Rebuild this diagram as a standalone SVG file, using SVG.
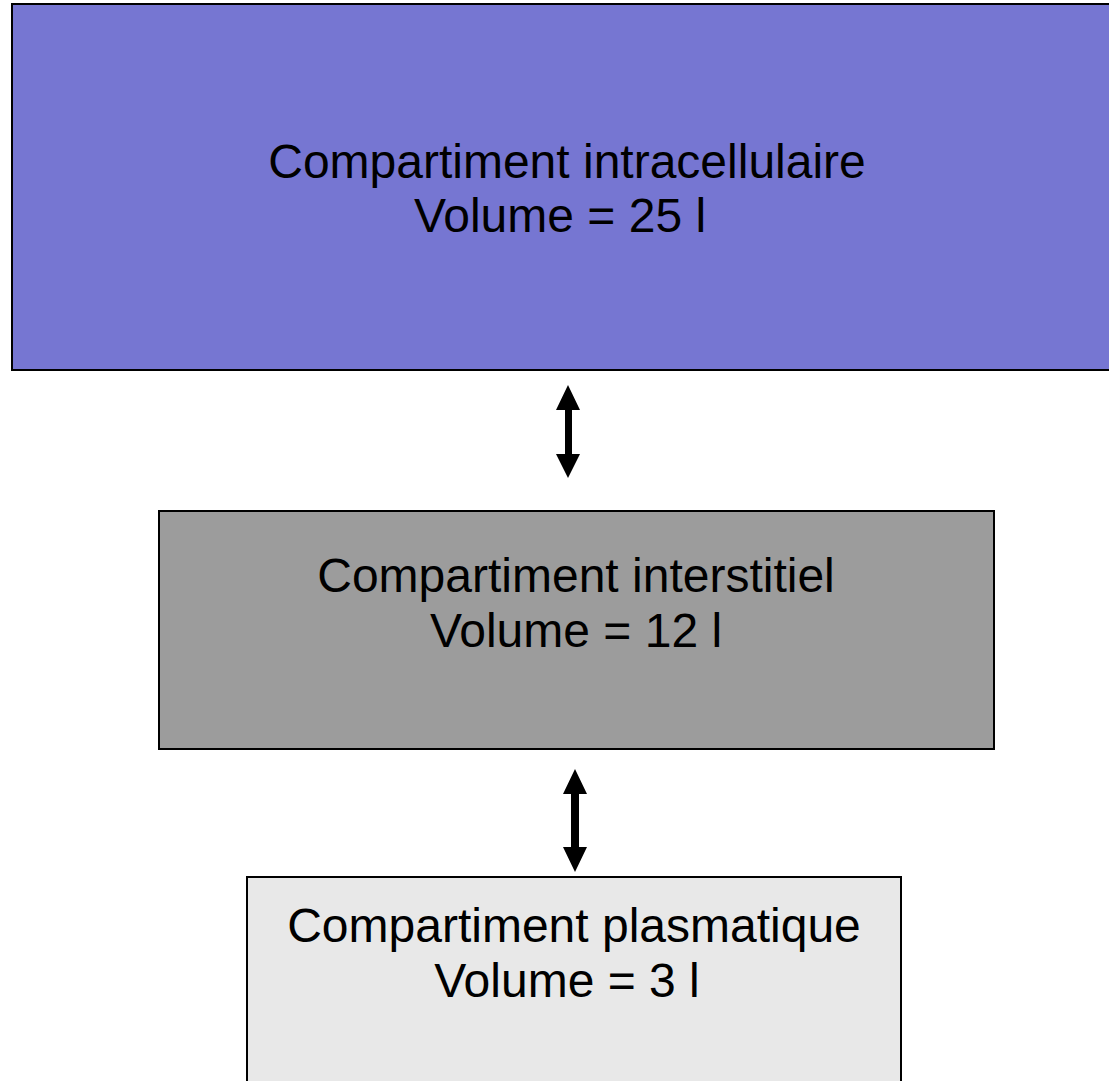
<svg xmlns="http://www.w3.org/2000/svg" width="1109" height="1081" viewBox="0 0 1109 1081">
  <style>
    .box { stroke: #000000; stroke-width: 2; }
    .label { font-family: "Liberation Sans", Arial, sans-serif; font-size: 48px; fill: #000000; text-anchor: middle; }
    .arrow { fill: #000000; }
  </style>
  <rect width="1109" height="1081" fill="#ffffff"/>

  <g id="intracellulaire">
    <rect class="box" x="12" y="4" width="1112" height="366" fill="#7676d2"/>
    <text class="label" x="567" y="178">Compartiment intracellulaire</text>
    <text class="label" x="560" y="232">Volume = 25 l</text>
  </g>

  <g id="interstitiel">
    <rect class="box" x="159" y="511" width="835" height="238" fill="#9c9c9c"/>
    <text class="label" x="576" y="592">Compartiment interstitiel</text>
    <text class="label" x="576" y="647">Volume = 12 l</text>
  </g>

  <g id="plasmatique">
    <rect class="box" x="247" y="877" width="654" height="220" fill="#e8e8e8"/>
    <text class="label" x="574" y="942">Compartiment plasmatique</text>
    <text class="label" x="567" y="997">Volume = 3 l</text>
  </g>

  <g id="connectors">
    <!-- double-headed arrow between intracellular and interstitial -->
    <polygon class="arrow" points="568,385 580,410 572,410 572,454 580,454 568,478 556,454 565,454 565,410 556,410"/>
    <!-- double-headed arrow between interstitial and plasma -->
    <polygon class="arrow" points="575,769 587,794 579,794 579,847 587,847 575,872 563,847 571,847 571,794 563,794"/>
  </g>
</svg>
